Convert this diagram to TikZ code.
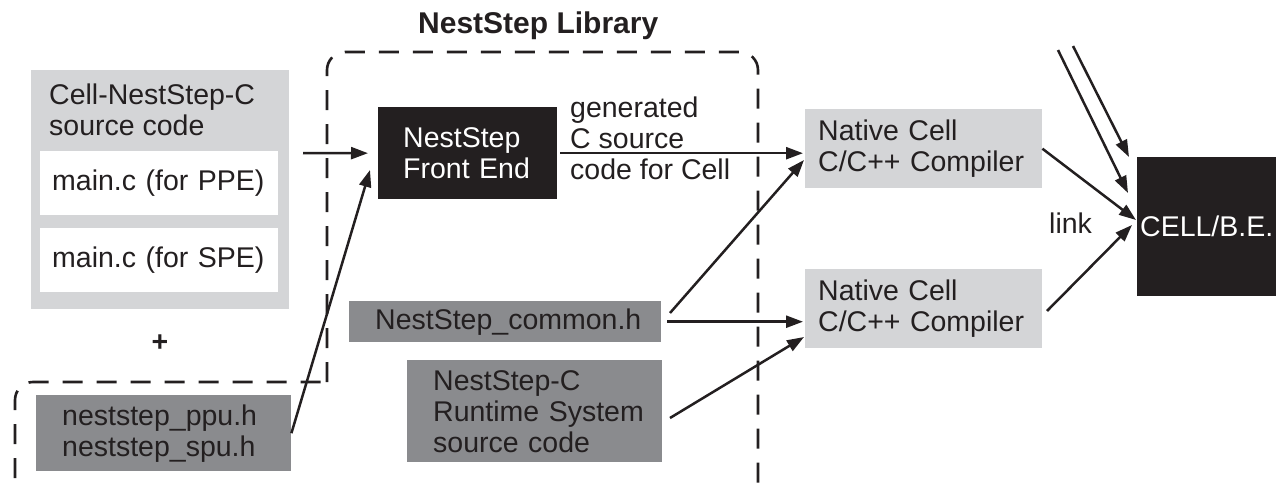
\documentclass[tikz,border=0pt]{standalone}
\usepackage{fontspec}
\setmainfont{Liberation Sans}
\usetikzlibrary{arrows.meta}
\definecolor{ink}{HTML}{231F20}
\definecolor{lgray}{HTML}{D4D5D7}
\definecolor{mgray}{HTML}{8A8B8E}
\begin{document}
\begin{tikzpicture}[x=1pt,y=-1pt,
  every node/.style={font=\fontsize{28.5}{31}\selectfont, text=ink},
  boxbase/.style={rectangle, inner ysep=0pt, anchor=north west, align=left},
  lbox/.style={boxbase, fill=lgray},
  wbox/.style={boxbase, fill=white},
  mbox/.style={boxbase, fill=mgray},
  kbox/.style={boxbase, fill=ink, text=white},
  txt/.style={inner sep=0pt, align=left},
  arr/.style={draw=ink, line width=2.5pt, -{Triangle[length=17pt,width=12pt]}},
  dashline/.style={draw=ink, line width=2.6pt, dash pattern=on 20pt off 14pt, rounded corners=18pt}
]
\useasboundingbox (0,0) rectangle (1286,485);
\clip (0,0) rectangle (1286,485);

% library boundary
\draw[dashline] (200,505) -- (15,505) -- (15,382) -- (327,382);
\draw[dashline] (327,382) -- (327,52) -- (758,52) -- (758,505) -- (600,505);

% title
\node[txt, anchor=base west, font=\fontsize{30}{32}\selectfont\bfseries] (title) at (418,33) {NestStep Library};

% source code box
\node[lbox, minimum width=258pt, minimum height=239pt] (src) at (31,70) {};
\node[txt, anchor=north west] (srclab) at (49,84) {Cell-NestStep-C\\source code};
\node[wbox, minimum width=238pt, minimum height=64pt, inner xsep=12pt, text width=214pt] (ppe) at (40,151) {main.c (for PPE)};
\node[wbox, minimum width=238pt, minimum height=64pt, inner xsep=12pt, text width=214pt] (spe) at (40,228) {main.c (for SPE)};
\node[txt, font=\fontsize{28.5}{31}\selectfont\bfseries] (plus) at (160,343) {+};
\node[mbox, minimum width=255pt, minimum height=76pt, inner xsep=26pt, text width=203pt] (ppu) at (36,395) {neststep\_ppu.h\\neststep\_spu.h};

% library contents
\node[kbox, minimum width=179pt, minimum height=92pt, inner xsep=25pt, text width=129pt] (fe) at (378,107) {NestStep\\Front End};
\node[mbox, minimum width=312pt, minimum height=41pt, inner xsep=26pt, text width=260pt] (common) at (349,301) {\mbox{NestStep\_common.h}};
\node[mbox, minimum width=255pt, minimum height=102pt, inner xsep=26pt, text width=203pt] (rts) at (407,360) {NestStep-C\\\mbox{Runtime System}\\source code};
\node[txt, anchor=north west] (gen) at (570,97) {generated\\C source\\code for Cell};

% compilers
\node[lbox, minimum width=237pt, minimum height=79pt, inner xsep=13pt, text width=211pt] (comp1) at (805,109) {Native Cell\\\mbox{C/C++ Compiler}};
\node[lbox, minimum width=237pt, minimum height=79pt, inner xsep=13pt, text width=211pt] (comp2) at (805,269) {Native Cell\\\mbox{C/C++ Compiler}};
\node[kbox, minimum width=139pt, minimum height=139pt, inner xsep=0pt, align=center] (cell) at (1137,157) {CELL/B.E.};
\node[txt, anchor=base west] (link) at (1049,233) {link};

% connector end points
\coordinate (srcout) at (303,153);
\coordinate (fein) at (370,170);
\coordinate (cmout1) at (670,313);
\coordinate (c1in) at (804,160);
\coordinate (rtsout) at (670,418);
\coordinate (c2in) at (804,337);
\coordinate (c2out) at (1047,311);
\coordinate (cellin1) at (1136,220);
\coordinate (cellin2) at (1132,225);
\coordinate (up1) at (1058,50);
\coordinate (up1e) at (1128,193);
\coordinate (up2) at (1073,46);
\coordinate (up2e) at (1129,157);

% connectors
\draw[arr, shorten >=10pt] (srcout) -- (fe.west);
\draw[arr] (ppu.east) -- (fein);
\draw[arr, shorten <=3pt, shorten >=2pt] (fe.east) -- (fe.east -| comp1.west);
\draw[arr] (cmout1) -- (c1in);
\draw[arr, shorten <=6pt, shorten >=2pt] (common.east) -- (common.east -| comp2.west);
\draw[arr] (rtsout) -- (c2in);
\draw[arr] (comp1.east) -- (cellin1);
\draw[arr] (c2out) -- (cellin2);
\draw[arr] (up1) -- (up1e);
\draw[arr] (up2) -- (up2e);
\end{tikzpicture}
\end{document}
